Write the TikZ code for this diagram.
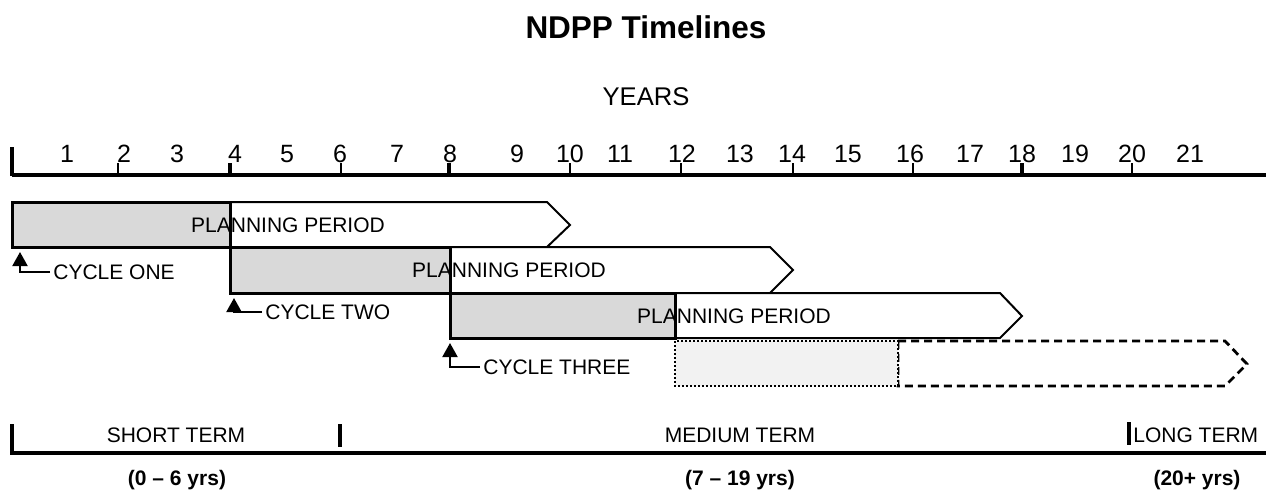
\documentclass[tikz,border=0pt]{standalone}
\usepackage{fontspec}
\setmainfont{Liberation Sans}
\usepackage{xcolor}
\usetikzlibrary{arrows.meta}

\definecolor{cyclegray}{HTML}{D9D9D9}
\definecolor{futuregray}{HTML}{F2F2F2}

\tikzset{
  cyclebox/.style={draw, line width=1.5pt, fill=cyclegray},
  planarrow/.style={draw, line width=1pt, fill=white, line join=miter},
  lbl/.style={font=\fontsize{10.5}{12}\selectfont, inner sep=0pt},
  yearnum/.style={font=\fontsize{12.5}{14}\selectfont, inner sep=0pt},
  termrange/.style={font=\bfseries\fontsize{10.5}{12}\selectfont, inner sep=0pt},
  pointer/.style={line width=1pt, ->}
}

\begin{document}
\begin{tikzpicture}[x=0.5pt, y=-0.5pt, >={Triangle[length=7pt, width=7.5pt]}]
    \useasboundingbox (0,0) rectangle (1266,493);

    % heading
    \node[font=\bfseries\fontsize{15.75}{18}\selectfont] (title) at (646,27) {NDPP Timelines};
    \node[font=\fontsize{12.8}{15}\selectfont] (years) at (646,97) {YEARS};

    % year axis
    \draw[line width=2pt] (12,175) -- (1266,175);
    \draw[line width=1.6pt] (12,147) -- (12,176);
    \foreach \x/\w in {118/0.9, 230/1.6, 341/0.9, 449/1.6, 570/1.2,
                       681/1.2, 793/1.2, 913/0.9, 1022/1.6, 1132/0.9}
        \draw[line width=\w pt] (\x,163) -- (\x,175);
    \foreach \n/\x in {1/67, 2/124, 3/177, 4/235, 5/287, 6/340, 7/397, 8/450,
                       9/517, 10/570, 11/620, 12/682, 13/740, 14/792, 15/848,
                       16/910, 17/970, 18/1022, 19/1075, 20/1132, 21/1190}
        \node[yearnum] (yr\n) at (\x,154) {\n};

    % cycle one
    \draw[planarrow] (230,202) -- (547,202) -- (570,225) -- (547,247) -- (230,247) -- cycle;
    \draw[cyclebox] (12,202) rectangle (230,247);
    % cycle two
    \draw[planarrow] (450,247) -- (770,247) -- (793,270) -- (770,293) -- (450,293) -- cycle;
    \draw[cyclebox] (230,247) rectangle (450,293);
    % cycle three
    \draw[planarrow] (675,293) -- (1000,293) -- (1022,316) -- (1000,338) -- (675,338) -- cycle;
    \draw[cyclebox] (450,293) rectangle (675,338);
    % next cycle
    \draw[planarrow, line width=1.4pt, dash pattern=on 4pt off 2.5pt] (898,341) -- (1225,341) -- (1247,364) -- (1225,386) -- (898,386) -- cycle;
    \draw[line width=1.2pt, dash pattern=on 1pt off 1pt, fill=futuregray] (675,341) rectangle (898,386);

    \node[lbl] (plan1) at (288,225) {PLANNING PERIOD};
    \node[lbl] (plan2) at (509,270) {PLANNING PERIOD};
    \node[lbl] (plan3) at (734,316) {PLANNING PERIOD};

    % cycle start labels
    \node[lbl, anchor=west, inner xsep=1.5pt] (one) at (50,272) {CYCLE ONE};
    \node[lbl, anchor=west, inner xsep=1.5pt] (two) at (262,312) {CYCLE TWO};
    \node[lbl, anchor=west, inner xsep=1.5pt] (three) at (480,367) {CYCLE THREE};
    \coordinate (oneTip) at (20,252);
    \coordinate (twoTip) at (234,298);
    \coordinate (threeTip) at (450,343);
    \draw[pointer] (one.west) -| (oneTip);
    \draw[pointer] (two.west) -| (twoTip);
    \draw[pointer] (three.west) -| (threeTip);

    % planning terms
    \draw[line width=1.6pt, line join=miter] (12,424) -- (12,453) -- (1266,453);
    \draw[line width=1.6pt] (340,424) -- (340,447);
    \draw[line width=1.6pt] (1129,422) -- (1129,445);
    \node[lbl] (short) at (176,435) {SHORT TERM};
    \node[lbl] (medium) at (740,435) {MEDIUM TERM};
    \node[lbl, anchor=west] (long) at (1133,435) {LONG TERM};
    \node[termrange] (shortyrs) at (177,480) {(0 – 6 yrs)};
    \node[termrange] (mediumyrs) at (740,480) {(7 – 19 yrs)};
    \node[termrange] (longyrs) at (1197,480) {(20+ yrs)};
\end{tikzpicture}
\end{document}
